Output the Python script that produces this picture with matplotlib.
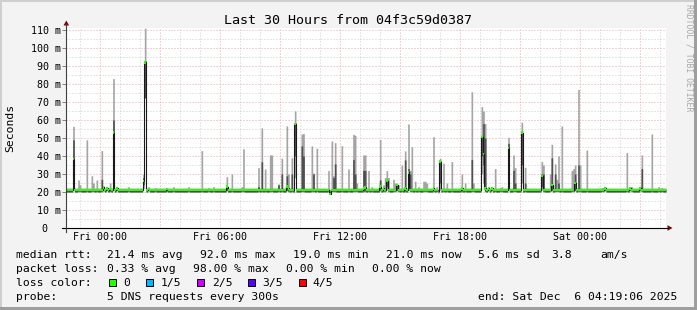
import matplotlib
matplotlib.use("Agg")
import matplotlib.pyplot as plt
import matplotlib.dates as mdates
from matplotlib.patches import Rectangle, Polygon
from matplotlib.lines import Line2D
from matplotlib.ticker import MultipleLocator
import numpy as np
from datetime import datetime, timedelta

# ---------------- data ----------------
title = "Last 30 Hours from 04f3c59d0387"
start = datetime(2025, 12, 4, 22, 19, 6)
end = datetime(2025, 12, 6, 4, 19, 6)
step_minutes = 5
n_steps = 360

# typical (quiet) step: sorted pings low, q1, median, q3, high  (ms)
base_low, base_q1, base_median, base_q3, base_high = 19.7, 20.1, 21.0, 21.6, 22.2

# notable steps (minutes after start)
ev_minute = [20, 37, 43, 63, 75, 80, 90, 109, 114, 120, 133, 143, 150, 186, 232, 237, 246, 267, 300,
             324, 369, 409, 426, 444, 482, 499, 525, 530, 579, 589, 598, 613, 619, 635, 648, 662,
             669, 679, 688, 708, 714, 739, 743, 754, 785, 792, 798, 803, 808, 829, 849, 860, 866,
             870, 890, 895, 905, 918, 944, 950, 959, 964, 969, 980, 989, 994, 999, 1008, 1019,
             1028, 1034, 1039, 1045, 1056, 1070, 1075, 1083, 1100, 1112, 1118, 1123, 1131, 1142,
             1158, 1189, 1198, 1219, 1224, 1247, 1253, 1259, 1268, 1275, 1288, 1300, 1305, 1328,
             1340, 1345, 1367, 1379, 1427, 1433, 1454, 1459, 1465, 1474, 1479, 1489, 1519, 1524,
             1529, 1535, 1540, 1563, 1605, 1610, 1618, 1683, 1692, 1698, 1724, 1728, 1758, 1779, 1785]
ev_low = [26, 20, 20, 20, 20, 20, 20, 20, 20.5, 20.5, 20, 40, 20.5, 20, 22, 72, 20.5, 20, 20,
          20, 20, 20, 20, 20, 20.5, 20, 20, 20, 20, 20, 20, 20, 20, 20, 20, 20.5,
          20, 20, 28, 20, 20, 20, 20, 20, 20, 19, 20, 20, 20, 20, 20, 20, 20,
          20, 20, 20, 20, 20, 20.5, 20, 20, 21, 20, 20, 20, 20.5, 20, 20, 20,
          22, 20, 20, 20, 20, 20, 20, 20, 20, 20, 19.5, 21, 20, 20,
          20, 20, 20, 20, 20, 30, 25, 20, 20.5, 20.5, 20, 20, 20, 25,
          20, 20, 25, 20, 21, 20, 20, 20.5, 20, 20, 20, 20, 20, 20,
          20.5, 20, 20, 20, 20, 20, 20.5, 20, 20.5, 20, 20.5, 20, 20, 20, 20]
ev_q1 = [33, 20.5, 20.5, 20.5, 20.5, 20.5, 20.5, 20.5, 21, 21, 20.5, 44, 21, 20.5, 24, 72.5, 21, 20.5, 20.5,
         20.5, 20.5, 20.5, 20.5, 20.5, 21, 20.5, 20.5, 20.5, 20.5, 20.5, 20.5, 20.5, 20.5, 20.5, 20.5, 21,
         20.5, 20.5, 40, 20.5, 20.5, 20.5, 20.5, 20.5, 20.5, 19, 20.5, 20.5, 20.5, 20.5, 20.5, 20.5, 20.5,
         20.5, 20.5, 20.5, 20.5, 20.5, 21, 20.5, 20.5, 23, 20.5, 20.5, 20.5, 21, 20.5, 20.5, 20.5,
         25, 20.5, 20.5, 20.5, 20.5, 20.5, 20.5, 20.5, 20.5, 20.5, 20, 25, 20.5, 20.5,
         20.5, 20.5, 20.5, 20.5, 20.5, 40, 35, 20.5, 21, 21, 20.5, 20.5, 20.5, 30,
         20.5, 20.5, 35, 20.5, 23, 20.5, 20.5, 21, 20.5, 20.5, 20.5, 20.5, 20.5, 20.5,
         21, 20.5, 20.5, 20.5, 20.5, 20.5, 21, 20.5, 21, 20.5, 21, 20.5, 20.5, 20.5, 20.5]
ev_median = [38.5, 21, 21, 21, 21, 21, 21, 21, 22.5, 22, 21.5, 53, 22, 21, 26, 92, 21.5, 21, 21.5,
             21, 21, 21, 21, 21, 23, 21, 21, 21, 21, 21, 21, 21, 21, 21, 21, 23,
             22, 21, 57.8, 21, 21, 21, 21, 21, 21, 19, 21, 21, 21, 21, 21, 21, 21,
             21, 22, 22.5, 21, 21, 23, 22, 21, 26.3, 21, 21, 21, 24, 21, 21, 22,
             30.9, 21, 21, 21, 21, 21, 21, 21, 22, 21, 20.5, 36.9, 21, 21,
             21, 22, 21, 21, 21, 50.4, 41, 22, 22, 22, 21, 21, 21, 44.3,
             21, 21, 53, 21, 28.9, 21, 21, 24, 21, 21, 21, 21, 21, 21,
             25, 21, 21, 21, 21, 21, 22, 21, 22, 21, 22, 21, 21, 21, 21]
ev_q3 = [49, 21.6, 21.6, 21.6, 21.6, 21.6, 21.6, 27, 22.8, 22.3, 22, 60, 22.3, 21.6, 28, 93, 22, 21.6, 21.8,
         21.6, 21.6, 21.6, 21.6, 21.6, 23.5, 21.6, 21.6, 21.6, 23, 36.8, 21.6, 22, 22, 24, 30, 29,
         22.5, 30, 58.5, 45.6, 40, 21.6, 30, 21.6, 21.6, 20.5, 21.6, 28, 35.6, 21.6, 21.6, 38, 30,
         21.6, 32, 32, 21.6, 21.6, 26.7, 22.5, 22, 27, 22, 21.6, 22, 24.3, 22, 22, 37.8,
         33, 30, 21.6, 21.6, 21.6, 21.6, 21.6, 21.6, 22.3, 21.6, 21, 37.5, 22, 21.6,
         21.6, 22.3, 21.6, 38, 21.6, 50.7, 58, 50, 22.3, 22.3, 21.6, 21.6, 21.6, 47,
         32, 25, 54, 25, 30, 30, 21.6, 39, 30, 21.6, 25, 21.6, 22, 22,
         30, 35, 22, 21.6, 21.6, 21.6, 22.3, 21.6, 22.3, 21.6, 22.3, 33, 21.6, 21.6, 21.6]
ev_high = [56.5, 26.7, 24, 49, 29, 25, 26.7, 43, 23.5, 22.8, 25, 83, 23, 23, 30, 111, 23, 22.5, 22.5,
           23, 23, 43, 22.5, 23, 28.5, 30, 23, 44, 33.5, 55.6, 32.8, 40.6, 40.6, 24.5, 38.7, 56.7,
           30, 39, 65, 52.2, 52.5, 45.6, 30.5, 44.3, 31.9, 21.5, 48.3, 29, 47.4, 45.7, 32.8, 52, 51.5,
           25, 40.6, 40.6, 31.9, 23, 49.2, 24, 28, 31.9, 28, 27, 25, 25, 24, 35, 42.8,
           57.8, 32, 45.2, 26, 23, 26, 26, 25, 50.7, 23, 21.5, 38.7, 36, 25,
           36.9, 30, 25, 75.7, 25, 67.4, 65, 58, 23, 23, 33, 22.5, 23, 50.4,
           40.6, 33.5, 58.7, 33.7, 36.9, 35, 30, 46.5, 35.6, 27, 40, 56.7, 31.9, 33,
           35, 77, 35, 43.3, 22.5, 22.5, 23, 41.9, 23, 23, 23, 40.6, 52.2, 23, 22.5]
ev_loss = [0] * len(ev_minute)
ev_loss[ev_minute.index(1118)] = 2   # one step with 2/5 lost

stat_lines = [
    ("median rtt:", [(107.3, "21.4 ms avg"), (200.0, "92.0 ms max"), (293.3, "19.0 ms min"),
                     (385.7, "21.0 ms now"), (478.3, "5.6 ms sd"), (551.7, "3.8"), (600.0, "am/s")]),
    ("packet loss:", [(107.3, "0.33 % avg"), (193.3, "98.00 % max"), (286.0, "0.00 % min"),
                      (371.7, "0.00 % now")]),
]
loss_labels = ["0", "1/5", "2/5", "3/5", "4/5"]
loss_colors = ["#26ff00", "#00b8ff", "#cc00ff", "#5a00ff", "#ff0000"]
probe_text = "5 DNS requests every 300s"
end_text = "end: Sat Dec  6 04:19:06 2025"

# ---------------- build per-step series ----------------
low = np.full(n_steps, base_low)
q1 = np.full(n_steps, base_q1)
med = np.full(n_steps, base_median)
q3 = np.full(n_steps, base_q3)
high = np.full(n_steps, base_high)
loss = np.zeros(n_steps, dtype=int)
for m, a, b, c, d, e, l in zip(ev_minute, ev_low, ev_q1, ev_median, ev_q3, ev_high, ev_loss):
    i = int(m // step_minutes)
    low[i], q1[i], med[i], q3[i], high[i], loss[i] = a, b, c, d, e, l

t_edges = mdates.date2num([start + timedelta(minutes=step_minutes * i) for i in range(n_steps + 1)])
ext = lambda a: np.append(a, a[-1])

# ---------------- figure ----------------
W, H = 697, 310
YMAX = 111.1
MONO = "DejaVu Sans Mono"
fx = lambda px: px / W
fy = lambda py: 1 - py / H

fig = plt.figure(figsize=(W / 100, H / 100), dpi=100)
fig.patch.set_facecolor("#f3f3f3")
for (x0, y0, w, h, c) in [(0, H - 2, W, 2, "#cfcfcf"), (0, 0, 2, H, "#cfcfcf"),
                          (0, 0, W, 3, "#9e9e9e"), (W - 3, 0, 3, H, "#9e9e9e")]:
    fig.patches.append(Rectangle((x0 / W, y0 / H), w / W, h / H, transform=fig.transFigure,
                                 facecolor=c, edgecolor="none", zorder=0))

ax = fig.add_axes([fx(66), fy(228), 600 / W, 200 / H])
ax.set_facecolor("white")
for s in ax.spines.values():
    s.set_visible(False)
ax.set_xlim(mdates.date2num(start), mdates.date2num(end))
ax.set_ylim(0, YMAX)
ax.xaxis.set_major_locator(mdates.HourLocator(byhour=range(0, 24, 3)))
ax.xaxis.set_minor_locator(mdates.HourLocator())
ax.yaxis.set_major_locator(MultipleLocator(10))
ax.yaxis.set_minor_locator(MultipleLocator(5))
ax.set_axisbelow(True)
ax.grid(which="major", color="#e8a8a8", lw=0.72, ls=(0, (1, 2)))
ax.grid(which="minor", color="#cfcfcf", lw=0.72, ls=(0, (1, 2)))
ax.tick_params(axis="both", which="both", labelbottom=False, labelleft=False)
ax.tick_params(axis="x", which="both", length=0)
ax.tick_params(axis="y", which="major", length=3, width=0.7, color="#808080")
ax.tick_params(axis="y", which="minor", length=0)

# smoke
ax.fill_between(t_edges, ext(low), ext(high), step="post", color="#a4a4a4", lw=0, zorder=2)
ax.fill_between(t_edges, ext(q1), ext(q3), step="post", color="#505050", lw=0, zorder=3)
# median line
ax.step(t_edges, ext(med), where="post", color="#1a1a1a", lw=0.8, zorder=4)
# loss-coloured median band
band = 0.65
ax.bar(t_edges[:-1], 2 * band, bottom=med - band, width=step_minutes / 1440.0, align="edge",
       color=[loss_colors[l] for l in loss], lw=0, antialiased=False, zorder=5)

# axis lines and arrows
fig.add_artist(Line2D([fx(62), fx(668)], [fy(228), fy(228)], color="black", lw=0.8))
fig.add_artist(Line2D([fx(66.3), fx(66.3)], [fy(232), fy(24)], color="#404040", lw=0.8))
fig.add_artist(Polygon([[fx(63.5), fy(25.5)], [fx(69.1), fy(25.5)], [fx(66.3), fy(20.5)]],
                       closed=True, transform=fig.transFigure, color="#7f0000", lw=0))
fig.add_artist(Polygon([[fx(667.5), fy(225.2)], [fx(667.5), fy(230.8)], [fx(672.5), fy(228)]],
                       closed=True, transform=fig.transFigure, color="#7f0000", lw=0))

# y tick labels
for v in range(0, 111, 10):
    py = 228 - v * 200 / YMAX
    if v == 0:
        fig.text(fx(47.5), fy(py + 3.6), "0", ha="right", va="baseline", family=MONO, fontsize=7.2)
    else:
        fig.text(fx(60.5), fy(py + 3.6), f"{v} m", ha="right", va="baseline", family=MONO, fontsize=7.2)

# x tick labels
lab_t = start.replace(minute=0, second=0) + timedelta(hours=1)
while lab_t < end:
    if lab_t.hour % 6 == 0:
        xpix = 66 + (mdates.date2num(lab_t) - mdates.date2num(start)) / \
            (mdates.date2num(end) - mdates.date2num(start)) * 600
        fig.text(fx(xpix), fy(240.5), lab_t.strftime("%a %H:%M"), ha="center", va="baseline",
                 family=MONO, fontsize=7.2)
    lab_t += timedelta(hours=1)

# titles
fig.text(fx(348.5), fy(24), title, ha="center", va="baseline", family=MONO, fontsize=9.6)
fig.text(fx(10.5), fy(128), "Seconds", ha="center", va="center", rotation=90, family=MONO, fontsize=8.2)
fig.text(fx(688.5), fy(4), "RRDTOOL / TOBI OETIKER", ha="center", va="top", rotation=270,
         family=MONO, fontsize=5.9, color="#a8a8a8")

# legend / stats
baselines = [258.3, 272.2, 286.1, 300.0]
for (lab, parts), yb in zip(stat_lines, baselines[:2]):
    fig.text(fx(16), fy(yb), lab, ha="left", va="baseline", family=MONO, fontsize=8.2)
    for xp, s in parts:
        fig.text(fx(xp), fy(yb), s, ha="left", va="baseline", family=MONO, fontsize=8.2)

fig.text(fx(16), fy(baselines[2]), "loss color:", ha="left", va="baseline", family=MONO, fontsize=8.2)
sq_x = [108.5, 146.0, 197.0, 247.8, 298.8]
txt_x = [123.3, 160.7, 211.7, 262.3, 312.7]
for sx, tx, lab, c in zip(sq_x, txt_x, loss_labels, loss_colors):
    fig.patches.append(Rectangle((fx(sx), fy(286)), 7 / W, 7 / H, transform=fig.transFigure,
                                 facecolor=c, edgecolor="black", lw=0.7))
    fig.text(fx(tx), fy(baselines[2]), lab, ha="left", va="baseline", family=MONO, fontsize=8.2)

fig.text(fx(16), fy(baselines[3]), "probe:", ha="left", va="baseline", family=MONO, fontsize=8.2)
fig.text(fx(107.3), fy(baselines[3]), probe_text, ha="left", va="baseline", family=MONO, fontsize=8.2)
fig.text(fx(478.3), fy(baselines[3]), end_text, ha="left", va="baseline", family=MONO, fontsize=8.2)

fig.savefig("out.png", dpi=100, facecolor=fig.get_facecolor())
